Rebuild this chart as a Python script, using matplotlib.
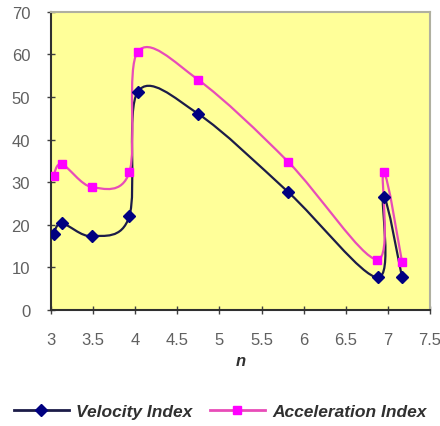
import matplotlib
matplotlib.use("Agg")
import matplotlib.pyplot as plt
from matplotlib.path import Path
from matplotlib.patches import PathPatch
from matplotlib.lines import Line2D

plt.rcParams['font.family'] = ['Liberation Sans', 'DejaVu Sans']

n_vel = [3.03, 3.13, 3.49, 3.93, 4.03, 4.75, 5.82, 6.88, 6.95, 7.17]
velocity = [17.8, 20.3, 17.3, 22.0, 51.2, 46.0, 27.6, 7.6, 26.5, 7.6]
n_acc = [3.03, 3.13, 3.49, 3.93, 4.03, 4.75, 5.82, 6.87, 6.95, 7.17]
acceleration = [31.5, 34.2, 28.8, 32.3, 60.6, 54.0, 34.7, 11.8, 32.3, 11.2]

x_ticks = [3, 3.5, 4, 4.5, 5, 5.5, 6, 6.5, 7, 7.5]
x_tick_labels = ['3', '3.5', '4', '4.5', '5', '5.5', '6', '6.5', '7', '7.5']
y_ticks = [0, 10, 20, 30, 40, 50, 60, 70]


def smooth_path(xs, ys):
    pts = list(zip(xs, ys))
    verts = [pts[0]]
    codes = [Path.MOVETO]
    n = len(pts)
    for i in range(n - 1):
        p0 = pts[i - 1] if i > 0 else pts[i]
        p1 = pts[i]
        p2 = pts[i + 1]
        p3 = pts[i + 2] if i + 2 < n else pts[i + 1]
        c1 = (p1[0] + (p2[0] - p0[0]) / 6.0, p1[1] + (p2[1] - p0[1]) / 6.0)
        c2 = (p2[0] - (p3[0] - p1[0]) / 6.0, p2[1] - (p3[1] - p1[1]) / 6.0)
        verts += [c1, c2, p2]
        codes += [Path.CURVE4] * 3
    return Path(verts, codes)


fig = plt.figure(figsize=(4.4, 4.27), dpi=100)
ax = fig.add_axes([0.116, 0.272, 0.861, 0.698])
ax.set_facecolor('#FFFF99')

vel_line = '#1c1c48'
vel_mark = '#000080'
acc_line = '#E84CB8'
acc_mark = '#FF00FF'

ax.add_patch(PathPatch(smooth_path(n_vel, velocity), facecolor='none',
                       edgecolor=vel_line, lw=1.6, transform=ax.transData, zorder=3))
ax.add_patch(PathPatch(smooth_path(n_acc, acceleration), facecolor='none',
                       edgecolor=acc_line, lw=1.6, transform=ax.transData, zorder=3))
ax.plot(n_vel, velocity, linestyle='none', marker='D', markersize=6,
        color=vel_mark, zorder=4)
ax.plot(n_acc, acceleration, linestyle='none', marker='s', markersize=5.5,
        color=acc_mark, zorder=4)

ax.set_xlim(3, 7.5)
ax.set_ylim(0, 70)
ax.set_xticks(x_ticks)
ax.set_xticklabels(x_tick_labels)
ax.set_yticks(y_ticks)
ax.tick_params(axis='both', direction='inout', length=6, width=1,
               colors='#404040', labelsize=12, labelcolor='#606060')
ax.tick_params(axis='x', pad=13)
ax.tick_params(axis='y', pad=12)

for s in ['left', 'bottom']:
    ax.spines[s].set_color('#303030')
    ax.spines[s].set_linewidth(1.5)
for s in ['top', 'right']:
    ax.spines[s].set_color('#B0B0A0')
    ax.spines[s].set_linewidth(1.5)

ax.set_xlabel('n', fontsize=12, fontstyle='italic', fontweight='bold',
              color='#303030', labelpad=4)

handles = [
    Line2D([0], [0], color=vel_line, lw=2, marker='D', markersize=6,
           markerfacecolor=vel_mark, markeredgecolor=vel_mark),
    Line2D([0], [0], color=acc_line, lw=2, marker='s', markersize=5.5,
           markerfacecolor=acc_mark, markeredgecolor=acc_mark),
]
leg = fig.legend(handles, ['Velocity Index', 'Acceleration Index'],
                 loc='center', bbox_to_anchor=(0.5, 0.033), ncol=2,
                 frameon=False, handlelength=3.2, columnspacing=1.0,
                 handletextpad=0.4,
                 prop={'size': 12.5, 'style': 'italic', 'weight': 'bold'})
for t in leg.get_texts():
    t.set_color('#303030')

fig.savefig('out.png', dpi=100, facecolor='white')
